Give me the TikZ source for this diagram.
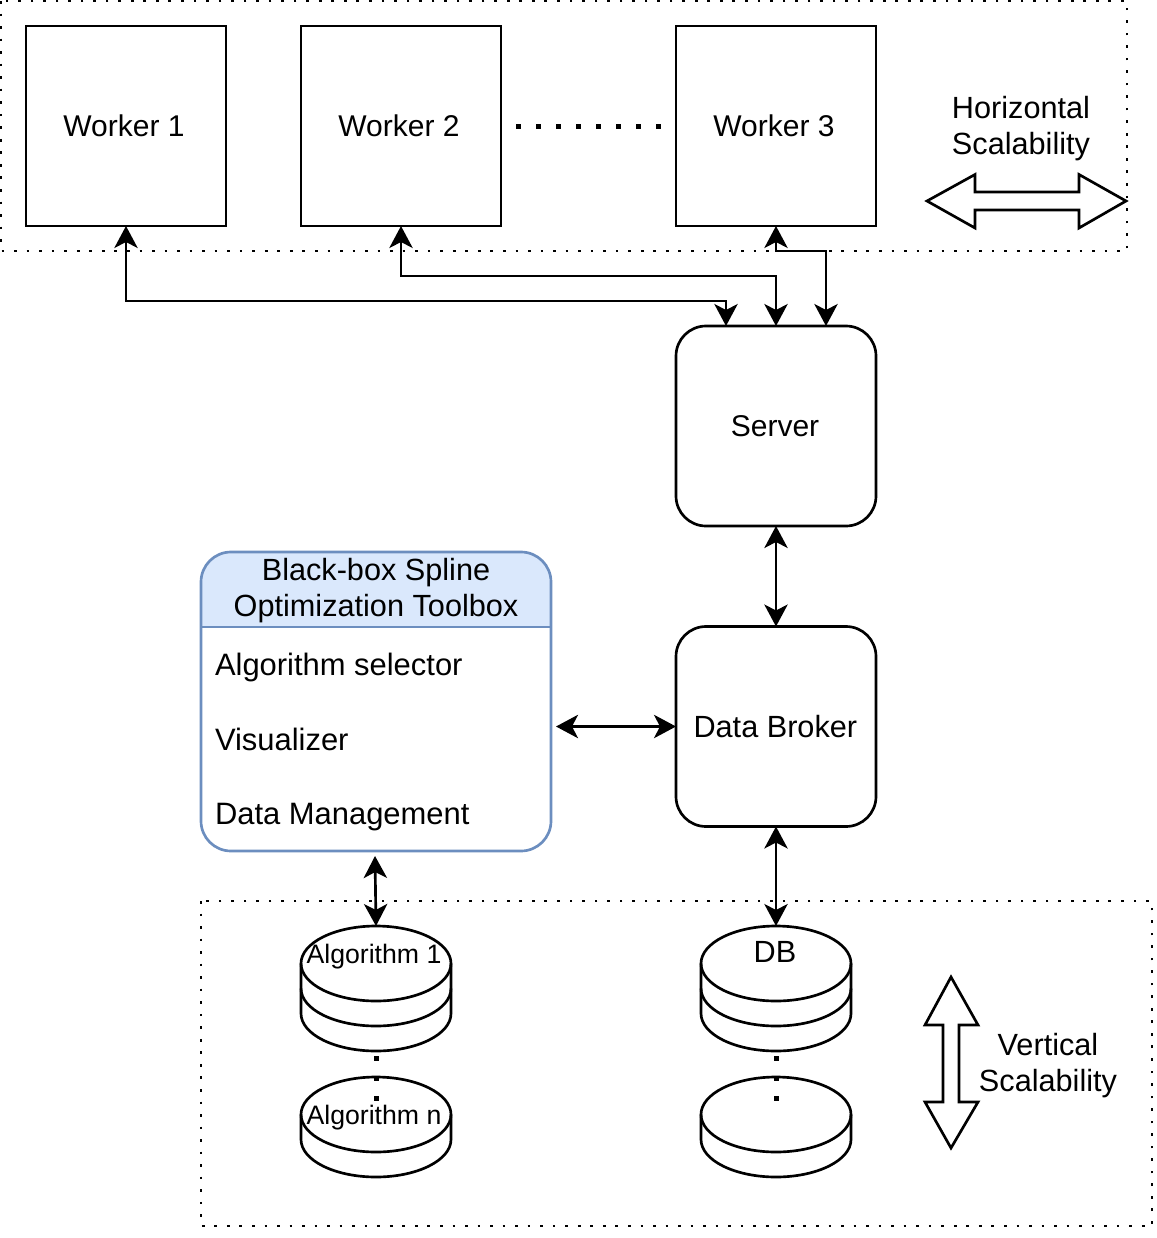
\documentclass[tikz,border=0pt]{standalone}
\usepackage{fontspec}
\setmainfont{Liberation Sans}
\usetikzlibrary{arrows.meta,calc}
\definecolor{hdrfill}{RGB}{218,232,252}
\definecolor{hdrline}{RGB}{108,142,191}
\tikzset{
  x=0.75pt,y=-0.75pt,
  every node/.style={font=\fontsize{23}{27}\selectfont,outer sep=0pt,inner sep=0pt,align=center},
  ln/.style={line width=2pt,black},
  box/.style={draw,ln,minimum width=150pt,minimum height=150pt,font=\fontsize{22.5}{27}\selectfont},
  rbox/.style={box,rounded corners=22.5pt},
  both/.style={ln,{Stealth[length=16.5pt,width=17.5pt,inset=4.5pt]}-{Stealth[length=16.5pt,width=17.5pt,inset=4.5pt]}},
  dotsline/.style={line width=2pt,dash pattern=on 2pt off 7.4pt},
  cdots/.style={line width=3.75pt,dash pattern=on 3.75pt off 11.25pt},
  blockarrow/.style={ln,fill=white,line join=miter},
  disk/.style={ln,fill=white},
  celltext/.style={font=\fontsize{20}{24}\selectfont},
  itemtext/.style={anchor=west,font=\fontsize{23.2}{27}\selectfont},
}
\newcommand{\diskstack}[4]{% x center, top y, layers, name
  \draw[disk] (#1-75,#2+37.5) -- (#1-75,#2+37.5+#3*25) arc[x radius=75,y radius=37.5,start angle=180,end angle=0] -- (#1+75,#2+37.5) arc[x radius=75,y radius=37.5,start angle=0,end angle=-180] -- cycle;
  \draw[ln] (#1-75,#2+37.5) arc[x radius=75,y radius=37.5,start angle=180,end angle=0];
  \ifnum#3=2
  \draw[ln] (#1-75,#2+62.5) arc[x radius=75,y radius=37.5,start angle=180,end angle=0];
  \fi
  \coordinate (#4) at (#1,#2);
  \coordinate (#4b) at (#1,#2+37.5+#3*25+37.5);
}
\begin{document}
\begin{tikzpicture}
\useasboundingbox (0,0) rectangle (1156,1238);
% dotted regions
\draw[dotsline] (1,1) rectangle (1127,251);
\draw[dotsline] (201,901) rectangle (1152,1226);
% workers
\node[box] (w1) at (126,126) {Worker 1\hspace*{3pt}};
\node[box] (w2) at (401,126) {Worker 2\hspace*{3pt}};
\node[box] (w3) at (776,126) {Worker 3\hspace*{3pt}};
\coordinate (dl) at (516,126);
\coordinate (dr) at (661,126);
\draw[cdots] (dl) -- (dr);
% server and broker
\node[rbox] (server) at (776,426) {Server\hspace*{1.5pt}};
\node[rbox,font=\fontsize{23}{27}\selectfont] (broker) at (776,726.5) {Data Broker\hspace*{1pt}};
\coordinate (s1) at (726,326);
\coordinate (s3) at (826,326);
% toolbox
\fill[hdrfill] (201,627) -- (201,582) arc[start angle=180,end angle=270,radius=30] -- (521,552) arc[start angle=270,end angle=360,radius=30] -- (551,627) -- cycle;
\node[draw=hdrline,line width=2pt,rounded corners=22.5pt,minimum width=262.5pt,minimum height=224.25pt] (tool) at (376,701.5) {};
\coordinate (hl) at (201,627);
\coordinate (hr) at (551,627);
\draw[hdrline,line width=2pt] (hl) -- (hr);
\node (tooltitle) at (376,591) {Black-box Spline\\Optimization Toolbox};
\node[itemtext] (i1) at (215,667) {Algorithm selector};
\node[itemtext] (i2) at (215,739) {Visualizer};
\node[itemtext] (i3) at (215,817) {Data Management};
\coordinate (toolr) at (556,726.5);
\coordinate (toolb) at (375,856);
% cylinders
\diskstack{376}{926}{2}{alg1}
\diskstack{376}{1077}{1}{algn}
\diskstack{776}{926}{2}{db}
\diskstack{776}{1077}{1}{dbn}
\node[celltext] (t1) at (374,957) {Algorithm 1};
\node[celltext] (t2) at (374,1118) {Algorithm n};
\node (t3) at (775,952) {DB};
\draw[cdots] (alg1b) ++(0,5) -- ++(0,50);
\draw[cdots] (dbb) ++(0,5) -- ++(0,50);
% connectors
\draw[both] (w1.south) -- ++(0,75) -| (s1);
\draw[both] (w2.south) -- ++(0,50) -| (server.north);
\draw[both] (w3.south) -- ++(0,25) -| (s3);
\draw[both] (server.south) -- (broker.north);
\draw[both] (toolr) -- (broker.west);
\draw[both] (toolb) -- (alg1);
\draw[both] (broker.south) -- (db);
% block arrows
\draw[blockarrow] (927,201) -- (975,174.5) -- (975,192) -- (1079,192) -- (1079,174.5) -- (1126,201) -- (1079,228) -- (1079,210) -- (975,210) -- (975,228) -- cycle;
\draw[blockarrow] (951,977) -- (978,1025) -- (959,1025) -- (959,1102) -- (978,1102) -- (951,1148) -- (925,1102) -- (943,1102) -- (943,1025) -- (925,1025) -- cycle;
\node (hs) at (1021,128.5) {Horizontal\\Scalability};
\node (vs) at (1048,1066) {Vertical\\Scalability};
\end{tikzpicture}
\end{document}
